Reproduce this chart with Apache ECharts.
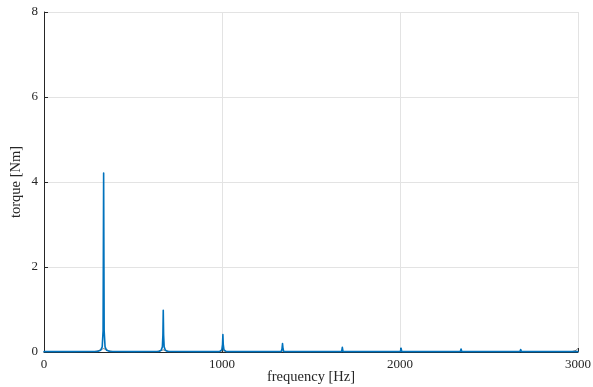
<!DOCTYPE html>
<html><head><meta charset="utf-8">
<script src="https://cdn.jsdelivr.net/npm/echarts@6/dist/echarts.min.js"></script>
<style>html,body{margin:0;padding:0;background:#fff}#c{width:593px;height:387px}</style>
</head><body><div id="c"></div>
<script>
// frequency [Hz], torque [Nm] — main spectrum (blue)
const torqueSpectrum = [
  [0,0.01],[150,0.01],[300,0.012],[318,0.04],[327,0.12],[332,0.5],[335,4.21],[338,0.5],[343,0.12],[352,0.04],[370,0.012],
  [500,0.01],[645,0.012],[658,0.04],[665,0.12],[668,0.4],[670,0.98],[672,0.4],[675,0.12],[682,0.04],[695,0.012],
  [850,0.01],[985,0.01],[999,0.05],[1003,0.18],[1005,0.41],[1007,0.18],[1011,0.05],[1025,0.01],
  [1200,0.01],[1333,0.01],[1337,0.07],[1340,0.2],[1343,0.07],[1347,0.01],
  [1500,0.01],[1672,0.01],[1676,0.11],[1680,0.01],
  [1850,0.01],[2002,0.01],[2006,0.09],[2010,0.01],
  [2200,0.01],[2339,0.01],[2343,0.07],[2347,0.01],
  [2500,0.01],[2674,0.01],[2678,0.06],[2682,0.01],
  [2850,0.01],[3000,0.01]
];
// secondary envelope (dark)
const torqueEnvelope = [
  [0,0.005],[280,0.008],[305,0.03],[322,0.06],[335,0.08],[348,0.06],[365,0.03],[390,0.008],
  [630,0.008],[655,0.03],[670,0.05],[685,0.03],[710,0.008],
  [985,0.008],[1005,0.03],[1025,0.008],
  [1325,0.008],[1340,0.02],[1355,0.008],
  [2965,0.008],[2990,0.04],[3000,0.09]
];
const xTicks = [0, 1000, 2000, 3000];
const yTicks = [0, 2, 4, 6, 8];

const font = '"Liberation Serif","DejaVu Serif",serif';
const txt = '#262626';
const chart = echarts.init(document.getElementById('c'));
chart.setOption({
  animation: false,
  grid: {left: 44, right: 15, top: 12, bottom: 35, containLabel: false, outerBoundsMode: 'none'},
  xAxis: {
    type: 'value', min: xTicks[0], max: xTicks[xTicks.length-1], interval: 1000,
    name: 'frequency [Hz]', nameLocation: 'middle', nameGap: 18, nameMoveOverlap: false,
    nameTextStyle: {fontFamily: font, fontSize: 14.5, color: txt},
    axisLine: {show: true, lineStyle: {color: txt, width: 1}},
    axisTick: {show: true, inside: true, length: 4, lineStyle: {color: txt}},
    axisLabel: {fontFamily: font, fontSize: 13, color: txt, margin: 6, formatter: v => String(v), showMinLabel: true, showMaxLabel: true, hideOverlap: false},
    splitLine: {show: true, lineStyle: {color: '#e3e3e3', width: 1}}
  },
  yAxis: {
    type: 'value', min: yTicks[0], max: yTicks[yTicks.length-1], interval: 2,
    name: 'torque [Nm]', nameLocation: 'middle', nameGap: 20, nameMoveOverlap: false,
    nameTextStyle: {fontFamily: font, fontSize: 14.5, color: txt},
    axisLine: {show: true, lineStyle: {color: txt, width: 1}},
    axisTick: {show: true, inside: true, length: 4, lineStyle: {color: txt}},
    axisLabel: {fontFamily: font, fontSize: 13, color: txt, margin: 6, formatter: v => String(v)},
    splitLine: {show: true, lineStyle: {color: '#e3e3e3', width: 1}}
  },
  series: [
    {type: 'line', data: torqueEnvelope, showSymbol: false, lineStyle: {color: '#444', width: 1, opacity: 0.7, join: 'round'}, z: 2},
    {type: 'line', data: torqueSpectrum, showSymbol: false, lineStyle: {color: '#0072BD', width: 1.6, join: 'round', cap: 'round'}, z: 3}
  ]
});
</script></body></html>
